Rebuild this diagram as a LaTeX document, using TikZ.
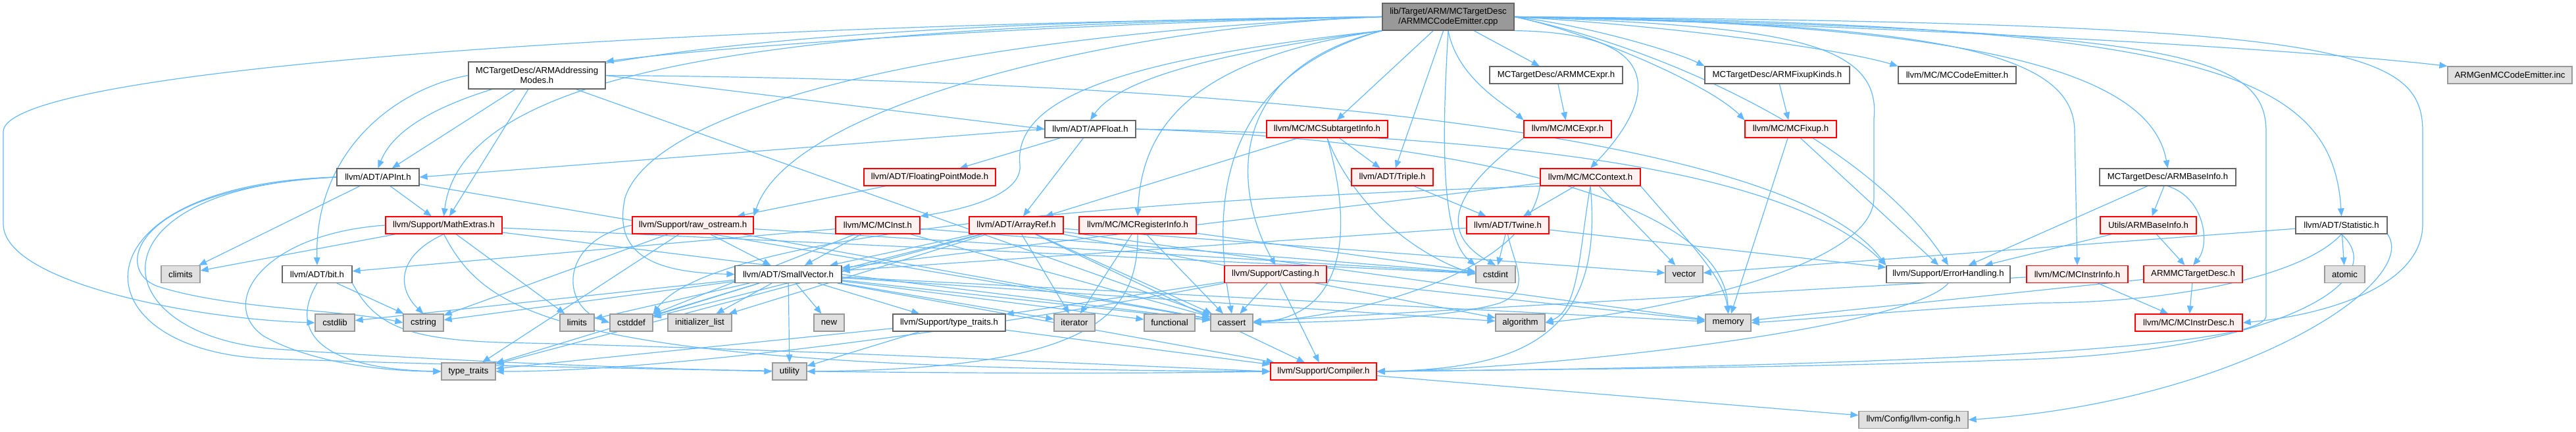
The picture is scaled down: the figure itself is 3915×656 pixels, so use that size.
\documentclass[tikz,border=0pt]{standalone}
\usepackage{fontspec}
\setmainfont{Liberation Sans}
\usetikzlibrary{arrows.meta, backgrounds}
\definecolor{cedge}{HTML}{63B8FF}
\definecolor{cgrey}{HTML}{666666}
\definecolor{csys}{HTML}{999999}
\definecolor{csysfill}{HTML}{E0E0E0}
\definecolor{cred}{HTML}{FF0000}
\definecolor{credfill}{HTML}{FFF0F0}
\tikzset{
  every picture/.style={line width=0.6pt},
  hdr/.style={draw=cgrey, fill=white, minimum width=0.5pt*#1, minimum height=13pt, inner sep=0pt, align=center, font=\fontsize{6.6}{7.4}\selectfont},
  hdrred/.style={hdr=#1, draw=cred, fill=credfill},
  sys/.style={hdr=#1, draw=csys, fill=csysfill},
  rootbox/.style={hdr=#1, fill=csys, minimum height=20.5pt},
  dep/.style={-{Triangle[length=6pt, width=4.8pt]}, draw=cedge, line width=0.6pt},
}
\begin{document}
\begin{tikzpicture}[x=0.5pt, y=-0.5pt]
  \useasboundingbox (0,0) rectangle (3915,656);
  \node[rootbox=200] (root) at (2201,25.5) {lib/Target/ARM/MCTargetDesc\\/ARMMCCodeEmitter.cpp};
  \node[hdr=208, minimum height=20.5pt] (addr) at (816,114.5) {MCTargetDesc/ARMAddressing\\Modes.h};
  \node[hdr=202] (armexpr) at (2365,114) {MCTargetDesc/ARMMCExpr.h};
  \node[hdr=220] (fixkinds) at (2701,114) {MCTargetDesc/ARMFixupKinds.h};
  \node[hdr=179] (codeemit) at (2974.5,114) {llvm/MC/MCCodeEmitter.h};
  \node[sys=189] (geninc) at (3814.5,114) {ARMGenMCCodeEmitter.inc};
  \node[hdr=138] (apfloat) at (1657,196) {llvm/ADT/APFloat.h};
  \node[hdrred=184] (subtarget) at (2017,196) {llvm/MC/MCSubtargetInfo.h};
  \node[hdrred=133] (mcexpr) at (2382.5,196) {llvm/MC/MCExpr.h};
  \node[hdrred=139] (mcfixup) at (2721.5,196) {llvm/MC/MCFixup.h};
  \node[hdr=125] (apint) at (574.5,269) {llvm/ADT/APInt.h};
  \node[hdrred=200] (fpmode) at (1413,269) {llvm/ADT/FloatingPointMode.h};
  \node[hdrred=124] (triple) at (2116,269) {llvm/ADT/Triple.h};
  \node[hdrred=152] (mccontext) at (2417,269) {llvm/MC/MCContext.h};
  \node[hdr=207] (baseinfo) at (3294.5,269) {MCTargetDesc/ARMBaseInfo.h};
  \node[hdrred=177] (mathextras) at (674.5,342) {llvm/Support/MathExtras.h};
  \node[hdrred=184] (rawos) at (1053,342) {llvm/Support/raw\_ostream.h};
  \node[hdrred=128] (mcinst) at (1334,342) {llvm/MC/MCInst.h};
  \node[hdrred=143] (arrayref) at (1544.5,342) {llvm/ADT/ArrayRef.h};
  \node[hdrred=178] (reginfo) at (1729,342) {llvm/MC/MCRegisterInfo.h};
  \node[hdrred=125] (twine) at (2291.5,342) {llvm/ADT/Twine.h};
  \node[hdrred=146] (utilsbase) at (3265,342) {Utils/ARMBaseInfo.h};
  \node[hdr=139] (statistic) at (3558.5,342) {llvm/ADT/Statistic.h};
  \node[sys=59] (climits) at (274.5,416.5) {climits};
  \node[hdr=106] (bit) at (482,416.5) {llvm/ADT/bit.h};
  \node[hdr=162] (smallvec) at (1198,416.5) {llvm/ADT/SmallVector.h};
  \node[hdrred=155] (casting) at (1938.5,416.5) {llvm/Support/Casting.h};
  \node[sys=60] (cstdint) at (2273,416.5) {cstdint};
  \node[sys=57] (vector) at (2559.5,416.5) {vector};
  \node[hdr=188] (errh) at (2961,416.5) {llvm/Support/ErrorHandling.h};
  \node[hdrred=154] (instrinfo) at (3157,416.5) {llvm/MC/MCInstrInfo.h};
  \node[hdrred=150] (armtd) at (3333,416.5) {ARMMCTargetDesc.h};
  \node[sys=61] (atomic) at (3563.5,416.5) {atomic};
  \node[sys=60] (cstdlib) at (509,490) {cstdlib};
  \node[sys=61] (cstring) at (643.5,490) {cstring};
  \node[sys=52] (limits) at (877,490) {limits};
  \node[sys=65] (cstddef) at (959.5,490) {cstddef};
  \node[sys=97] (initlist) at (1063.5,490) {initializer\_list};
  \node[sys=46] (new) at (1260,490) {new};
  \node[hdr=171] (suptt) at (1442.5,490) {llvm/Support/type\_traits.h};
  \node[sys=62] (iterator) at (1633,490) {iterator};
  \node[sys=77] (functional) at (1777.5,490) {functional};
  \node[sys=64] (cassert) at (1872,490) {cassert};
  \node[sys=75] (algorithm) at (2310.5,490) {algorithm};
  \node[sys=69] (memory) at (2626.5,490) {memory};
  \node[hdrred=163] (instrdesc) at (3326.5,490) {llvm/MC/MCInstrDesc.h};
  \node[sys=82] (typetraits) at (712,564) {type\_traits};
  \node[sys=52] (utility) at (1200,564) {utility};
  \node[hdrred=161] (compiler) at (2011.5,564) {llvm/Support/Compiler.h};
  \node[sys=166] (config) at (2908,637.5) {llvm/Config/llvm-config.h};
  \begin{pgfonlayer}{background}
    \foreach \a/\b in {root/armexpr, root/subtarget, root/triple, addr/apint, addr/mathextras, addr/cassert,
        apfloat/fpmode, apfloat/arrayref, apint/climits, apint/mathextras, apint/cassert, bit/cstring,
        mathextras/climits, mathextras/limits, mathextras/cstdint, mathextras/cassert,
        rawos/smallvec, rawos/cstring, rawos/cstdint, rawos/cassert, rawos/typetraits,
        mcinst/smallvec, mcinst/bit, mcinst/cassert, mcinst/cstddef, mcinst/cstdint,
        arrayref/smallvec, arrayref/compiler, arrayref/algorithm, arrayref/cassert, arrayref/cstddef,
        arrayref/initlist, arrayref/iterator, arrayref/memory, arrayref/typetraits, arrayref/vector,
        reginfo/iterator, reginfo/cassert, reginfo/cstdint, twine/smallvec, twine/errh, twine/cstdint,
        triple/twine, subtarget/arrayref, subtarget/triple, armexpr/mcexpr, fixkinds/mcfixup,
        mcfixup/errh, mcfixup/memory, mccontext/twine, mccontext/smallvec, mccontext/vector, fpmode/rawos,
        casting/suptt, casting/cassert, casting/compiler, casting/memory,
        smallvec/compiler, smallvec/suptt, smallvec/algorithm, smallvec/cassert, smallvec/cstddef,
        smallvec/cstdlib, smallvec/cstring, smallvec/functional, smallvec/initlist, smallvec/iterator,
        smallvec/limits, smallvec/memory, smallvec/new, smallvec/typetraits, smallvec/utility,
        suptt/compiler, suptt/typetraits, suptt/utility, compiler/config, statistic/vector, statistic/atomic,
        baseinfo/errh, baseinfo/utilsbase, utilsbase/errh, utilsbase/armtd,
        armtd/instrdesc, armtd/memory, instrinfo/instrdesc, instrinfo/cassert}
      { \draw[dep] (\a) -- (\b); }
    \draw[dep] (root.west) .. controls (1600,36) and (1100,70) .. (addr.north east);
    \draw[dep] (root.west) .. controls (1200,34) and (640,90) .. (apint.north);
    \draw[dep] (root.west) .. controls (1300,38) and (705,80) .. (mathextras.north);
    \draw[dep] (root.west) .. controls (900,40) and (5,110) .. (5,200) -- (5,340) .. controls (5,430) and (300,485) .. (cstdlib.west);
    \draw[dep] (root.west) .. controls (1700,40) and (1200,160) .. (rawos.north east);
    \draw[dep] (root.west) .. controls (1500,50) and (1000,150) .. (950,300) .. controls (930,390) and (1000,414) .. (smallvec.west);
    \draw[dep] (root.south west) .. controls (1850,80) and (1700,120) .. (apfloat.north);
    \draw[dep] (root.south west) .. controls (1700,90) and (1540,150) .. (1550,250) .. controls (1555,300) and (1450,320) .. (mcinst.north east);
    \draw[dep] (root.south west) .. controls (1800,90) and (1735,200) .. (reginfo.north);
    \draw[dep] (root.south west) .. controls (1840,120) and (1845,330) .. (cassert.north);
    \draw[dep] (root.south west) .. controls (1850,110) and (1880,300) .. (casting.north);
    \draw[dep] (root.south) .. controls (2192,200) and (2188,360) .. (cstdint.north west);
    \draw[dep] (root.south) .. controls (2215,120) and (2290,160) .. (mcexpr.north west);
    \draw[dep] (root.south east) .. controls (2560,50) and (2500,170) .. (mccontext.north);
    \draw[dep] (root.east) .. controls (2420,40) and (2550,80) .. (fixkinds.north west);
    \draw[dep] (root.east) .. controls (2550,40) and (2800,75) .. (codeemit.north west);
    \draw[dep] (root.east) .. controls (2900,40) and (3500,75) .. (geninc.north west);
    \draw[dep] (root.east) .. controls (2420,50) and (2600,130) .. (mcfixup.north west);
    \draw[dep] (root.east) .. controls (2560,80) and (2850,230) .. (errh.north);
    \draw[dep] (root.east) .. controls (2700,40) and (2860,60) .. (2848,180) -- (2848,300) .. controls (2848,410) and (2500,475) .. (algorithm.east);
    \draw[dep] (root.east) .. controls (2950,35) and (3153,80) .. (3153,200) -- (instrinfo.north);
    \draw[dep] (root.east) .. controls (3050,35) and (3270,120) .. (baseinfo.north);
    \draw[dep] (root.east) .. controls (3350,35) and (3545,110) .. (statistic.north);
    \draw[dep] (root.east) .. controls (3300,45) and (3444,80) .. (3444,200) -- (3444,480) .. controls (3444,540) and (2600,560) .. (compiler.east);
    \draw[dep] (root.east) .. controls (3550,35) and (3682,70) .. (3682,200) -- (3682,340) .. controls (3682,440) and (3520,480) .. (instrdesc.east);
    \draw[dep] (addr.west) .. controls (600,135) and (478,230) .. (bit.north);
    \draw[dep] (addr.east) -- (apfloat.west);
    \draw[dep] (addr.east) .. controls (1700,120) and (2700,180) .. (errh.north west);
    \draw[dep] (apfloat.west) -- (apint.east);
    \draw[dep] (apfloat.east) .. controls (2200,205) and (2700,240) .. (errh.north west);
    \draw[dep] (apfloat.east) .. controls (2200,210) and (2620,300) .. (memory.north);
    \draw[dep] (apint.west) .. controls (200,285) and (170,410) .. (240,435) .. controls (350,470) and (520,470) .. (cstring.west);
    \draw[dep] (apint.west) .. controls (130,285) and (150,510) .. (420,530) .. controls (700,550) and (1000,560) .. (utility.west);
    \draw[dep] (apint.west) .. controls (100,280) and (110,540) .. (420,545) .. controls (1000,565) and (1600,570) .. (compiler.west);
    \draw[dep] (bit.south) .. controls (440,500) and (480,560) .. (typetraits.west);
    \draw[dep] (bit.south east) .. controls (570,495) and (620,515) .. (760,520) .. controls (1200,530) and (1700,555) .. (compiler.west);
    \draw[dep] (mathextras.south) .. controls (600,390) and (605,440) .. (cstring.north);
    \draw[dep] (mathextras.west) .. controls (400,355) and (330,460) .. (400,510) .. controls (480,555) and (600,564) .. (typetraits.west);
    \draw[dep] (mathextras.south) .. controls (740,480) and (850,560) .. (compiler.west);
    \draw[dep] (rawos.west) .. controls (850,365) and (850,465) .. (cstddef.west);
    \draw[dep] (reginfo.south) .. controls (1730,480) and (1660,560) .. (utility.east);
    \draw[dep] (twine.south) .. controls (2300,400) and (2330,440) .. (2280,460) .. controls (2200,485) and (2000,490) .. (cassert.east);
    \draw[dep] (subtarget.south) .. controls (2060,360) and (2040,480) .. (cassert.east);
    \draw[dep] (subtarget.south) .. controls (2060,320) and (2160,390) .. (cstdint.west);
    \draw[dep] (mcexpr.south west) .. controls (2250,260) and (2160,340) .. (cstdint.north);
    \draw[dep] (mccontext.south west) .. controls (2000,295) and (1100,330) .. (cstddef.north east);
    \draw[dep] (mccontext.south) .. controls (2400,380) and (2400,470) .. (algorithm.east);
    \draw[dep] (mccontext.south east) .. controls (2560,360) and (2620,420) .. (memory.north);
    \draw[dep] (mccontext.south west) .. controls (2320,420) and (2050,480) .. (cassert.east);
    \draw[dep] (mccontext.south) .. controls (2440,520) and (2300,560) .. (compiler.east);
    \draw[dep] (casting.south west) .. controls (1500,500) and (1000,565) .. (typetraits.east);
    \draw[dep] (errh.south) .. controls (2900,500) and (2350,560) .. (compiler.east);
    \draw[dep] (statistic.south) .. controls (3500,420) and (3300,460) .. (3100,460) .. controls (2900,470) and (2750,485) .. (memory.east);
    \draw[dep] (statistic.south) .. controls (3640,430) and (3450,530) .. (3100,545) .. controls (2700,560) and (2400,560) .. (compiler.east);
    \draw[dep] (statistic.south east) .. controls (3680,430) and (3400,610) .. (config.east);
    \draw[dep] (baseinfo.south) .. controls (3350,300) and (3360,370) .. (armtd.north);
  \end{pgfonlayer}
\end{tikzpicture}
\end{document}
